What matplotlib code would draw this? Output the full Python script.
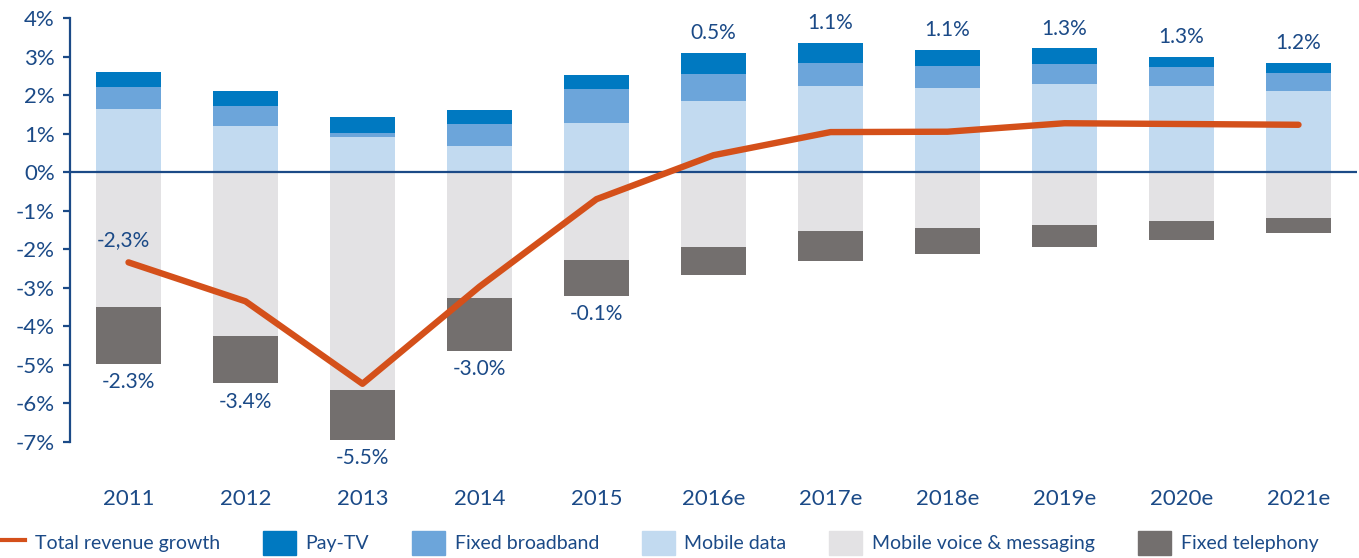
import matplotlib
matplotlib.use("Agg")
import matplotlib.pyplot as plt
import numpy as np
from matplotlib.lines import Line2D
from matplotlib.patches import Patch

plt.rcParams['font.family'] = ['Lato', 'DejaVu Sans']

# data (percentage points)
years = ['2011', '2012', '2013', '2014', '2015', '2016e', '2017e', '2018e', '2019e', '2020e', '2021e']
mobile_data = [1.64, 1.21, 0.92, 0.69, 1.28, 1.85, 2.24, 2.18, 2.28, 2.24, 2.11]
fixed_broadband = [0.57, 0.51, 0.09, 0.56, 0.89, 0.70, 0.60, 0.57, 0.53, 0.49, 0.47]
pay_tv = [0.40, 0.39, 0.41, 0.37, 0.34, 0.54, 0.51, 0.42, 0.40, 0.27, 0.25]
mobile_voice = [-3.50, -4.24, -5.66, -3.26, -2.27, -1.94, -1.53, -1.46, -1.37, -1.26, -1.18]
fixed_telephony = [-1.48, -1.24, -1.28, -1.37, -0.93, -0.73, -0.78, -0.66, -0.58, -0.49, -0.41]
total_growth = [-2.34, -3.35, -5.49, -2.97, -0.70, 0.44, 1.04, 1.05, 1.27, 1.25, 1.23]
growth_labels = ['-2.3%', '-3.4%', '-5.5%', '-3.0%', '-0.1%', '0.5%', '1.1%', '1.1%', '1.3%', '1.3%', '1.2%']
yticks = [4, 3, 2, 1, 0, -1, -2, -3, -4, -5, -6, -7]

NAVY = '#1B4A87'
C_PAYTV = '#0079C1'
C_FBB = '#6CA5DA'
C_MDATA = '#C2DAF0'
C_MVOICE = '#E3E2E4'
C_FTEL = '#736F6E'
C_LINE = '#D4501A'

fig = plt.figure(figsize=(13.59, 5.58), dpi=100)
ax = fig.add_axes([70 / 1359, 1 - 442 / 558, 1287 / 1359, 424 / 558])

x = np.arange(len(years))
w = 0.555
md = np.array(mobile_data)
fb = np.array(fixed_broadband)
pt = np.array(pay_tv)
mv = np.array(mobile_voice)
ft = np.array(fixed_telephony)

ax.bar(x, md, w, color=C_MDATA, zorder=2)
ax.bar(x, fb, w, bottom=md, color=C_FBB, zorder=2)
ax.bar(x, pt, w, bottom=md + fb, color=C_PAYTV, zorder=2)
ax.bar(x, mv, w, color=C_MVOICE, zorder=2)
ax.bar(x, ft, w, bottom=mv, color=C_FTEL, zorder=2)

ax.axhline(0, color=NAVY, lw=1.6, zorder=3)
ax.plot(x, total_growth, color=C_LINE, lw=4.6, zorder=4, solid_capstyle='round')

# value labels: below the bar for history, above for estimates
for i, lab in enumerate(growth_labels):
    if i < 5:
        ax.annotate(lab, (x[i], mv[i] + ft[i]), xytext=(0, -6), textcoords='offset points',
                    ha='center', va='top', fontsize=15, color=NAVY)
    else:
        ax.annotate(lab, (x[i], md[i] + fb[i] + pt[i]), xytext=(0, 7), textcoords='offset points',
                    ha='center', va='bottom', fontsize=15, color=NAVY)
ax.annotate('-2,3%', (x[0], total_growth[0]), xytext=(-4, 9), textcoords='offset points',
            ha='center', va='bottom', fontsize=15, color=NAVY)

ax.set_xlim(-0.5, 10.5)
ax.set_ylim(-7, 4)
ax.set_yticks(yticks)
ax.set_yticklabels([f'{t}%' for t in yticks])
ax.set_xticks(x)
ax.set_xticklabels(years)
ax.tick_params(axis='y', colors=NAVY, labelsize=16, length=5, width=1.6, pad=6)
ax.tick_params(axis='x', colors=NAVY, labelsize=16, length=0, pad=34)
for s in ['top', 'right', 'bottom']:
    ax.spines[s].set_visible(False)
ax.spines['left'].set_color(NAVY)
ax.spines['left'].set_linewidth(1.6)

handles = [
    Line2D([0], [0], color=C_LINE, lw=3),
    Patch(color=C_PAYTV),
    Patch(color=C_FBB),
    Patch(color=C_MDATA),
    Patch(color=C_MVOICE),
    Patch(color=C_FTEL),
]
names = ['Total revenue growth', 'Pay-TV', 'Fixed broadband', 'Mobile data',
         'Mobile voice & messaging', 'Fixed telephony']
leg = fig.legend(handles, names, loc='center', bbox_to_anchor=(0.482, 0.027), ncol=6,
                 frameon=False, fontsize=14, handlelength=1.7, handleheight=1.5,
                 handletextpad=0.5, columnspacing=2.2, borderaxespad=0, borderpad=0)
for t in leg.get_texts():
    t.set_color(NAVY)

fig.savefig('out.png', dpi=100)
